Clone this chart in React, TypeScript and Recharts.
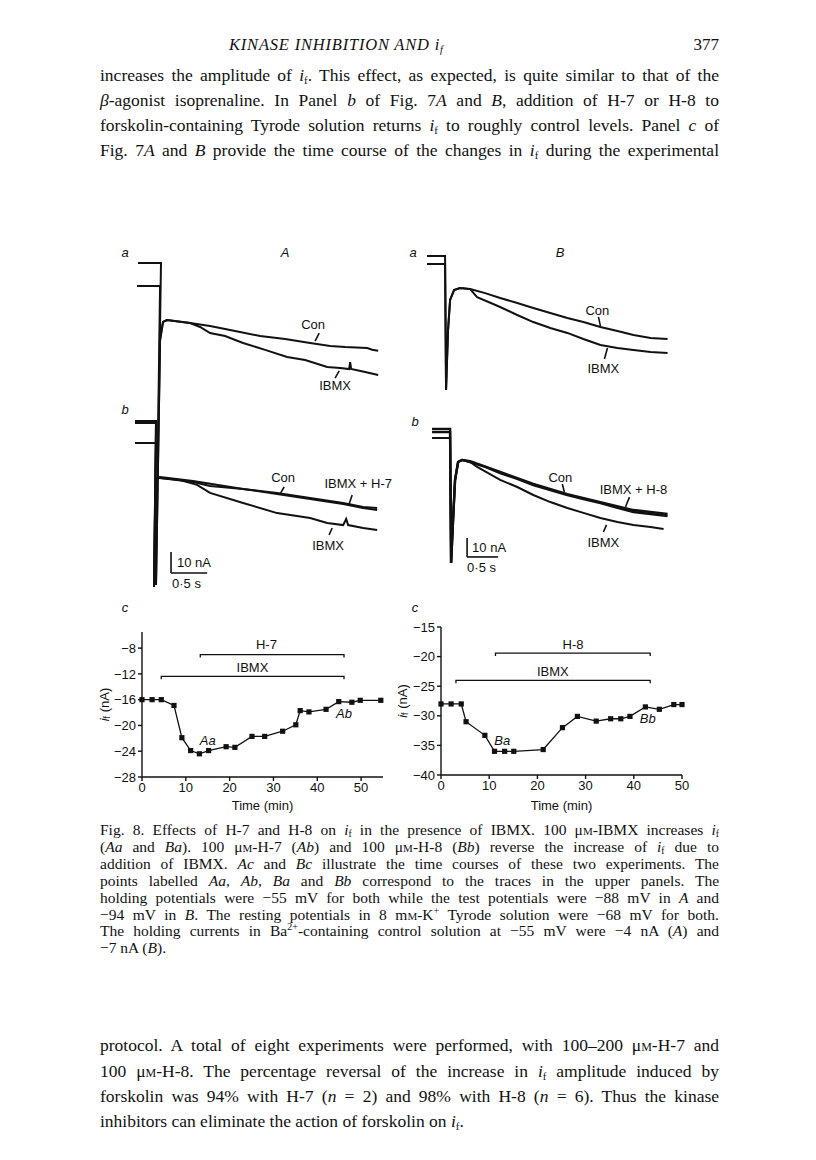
import React from 'react';
import { LineChart, Line, XAxis, YAxis, ReferenceLine, ReferenceDot } from 'recharts';

const SERIF = '"Liberation Serif", "DejaVu Serif", serif';
const SANS = '"Liberation Sans", Arial, sans-serif';

// panel Ac: time course, H-7 experiment
const timeA = [0, 2.3, 4.4, 7.3, 9.1, 11.1, 13.1, 15.2, 19.2, 21.2, 25.1, 28.0, 32.1, 35.1, 36.1, 38.1, 42.0, 44.9, 47.9, 49.8, 54.5];
const ifA = [-16, -16, -16, -16.9, -21.9, -23.9, -24.4, -23.9, -23.3, -23.4, -21.7, -21.7, -20.9, -19.9, -17.7, -17.9, -17.5, -16.3, -16.4, -16.1, -16.1];
const ibmxA = [4.4, 46.1];
const h7A = [13.3, 46.1];

// panel Bc: time course, H-8 experiment
const timeB = [0, 2.1, 4.2, 5.2, 9.1, 11.1, 13.2, 15.1, 21.2, 25.2, 28.3, 32.2, 35.2, 37.3, 39.2, 42.4, 45.3, 48.3, 50];
const ifB = [-28, -28, -28, -31, -33.3, -36, -36, -36, -35.7, -32, -30.1, -30.9, -30.5, -30.5, -30.1, -28.5, -28.9, -28.1, -28.1];
const ibmxB = [3.1, 43.4];
const h8B = [11.3, 43.4];

const ticksA = [-28, -24, -20, -16, -12, -8];
const ticksB = [-40, -35, -30, -25, -20, -15];
const timeTicks = [0, 10, 20, 30, 40, 50];

// current traces (s, nA relative to an arbitrary zero)
const aConT = [0.111, 0.429, 0.36, 0.416, 0.457, 0.512, 0.831, 1.108, 1.454, 1.801, 2.147, 2.493, 2.77, 2.978, 3.283, 3.352, 3.435];
const aConI = [158.8, 158.8, 5.7, 122.2, 130.8, 131.7, 130.3, 128.9, 126.5, 124.1, 122.7, 120.8, 119.4, 118.9, 118.4, 117.6, 117.1];
const aIbmxT = [0.097, 0.416, 0.36, 0.416, 0.457, 0.512, 0.831, 0.97, 1.108, 1.316, 1.565, 1.87, 2.175, 2.424, 2.729, 2.909, 3.033, 3.047, 3.061, 3.255, 3.435];
const aIbmxI = [147.9, 147.9, 5.7, 122.2, 130.8, 131.7, 130.3, 128.4, 125.5, 124.1, 120.8, 117.5, 114.1, 112.7, 109.4, 108.9, 108.4, 111.7, 108.4, 107.0, 105.6];

const abConT = [0.069, 0.36, 0.332, 0.374, 0.416, 0.873, 1.108, 1.565, 2.036, 2.493, 2.95, 3.227, 3.421];
const abConI = [83.7, 83.7, 4.8, 56.6, 56.6, 54.7, 52.8, 51.4, 49.5, 47.1, 44.7, 42.8, 42.3];
const abH7T = [0.069, 0.36, 0.332, 0.374, 0.416, 0.873, 1.565, 2.036, 2.493, 2.95, 3.227, 3.421];
const abH7I = [82.7, 82.7, 4.8, 56.6, 57.1, 55.2, 51.4, 49.0, 46.6, 44.2, 42.3, 41.4];
const abIbmxT = [0.069, 0.36, 0.332, 0.374, 0.416, 0.693, 0.928, 1.108, 1.565, 2.036, 2.493, 2.729, 2.95, 2.992, 3.019, 3.227, 3.421];
const abIbmxI = [73.2, 73.2, 4.8, 56.6, 56.6, 55.6, 53.3, 49.5, 44.7, 39.9, 37.6, 35.2, 34.2, 37.1, 34.2, 32.8, 31.9];

const baConT = [0.113, 0.404, 0.42, 0.452, 0.485, 0.549, 0.646, 0.808, 1.05, 1.292, 1.567, 1.826, 2.1, 2.375, 2.633, 2.908, 3.182, 3.441, 3.715, 3.99];
const baConI = [178.9, 178.9, 108.6, 140.0, 155.8, 161.0, 162.1, 161.5, 159.4, 156.8, 154.2, 151.6, 149.0, 146.3, 144.2, 141.6, 139.5, 137.4, 135.8, 135.3];
const baIbmxT = [0.113, 0.404, 0.42, 0.452, 0.485, 0.549, 0.646, 0.808, 0.921, 1.292, 1.567, 1.826, 2.1, 2.375, 2.633, 2.908, 3.182, 3.441, 3.715, 3.99];
const baIbmxI = [174.7, 174.7, 108.6, 140.0, 155.8, 161.0, 162.1, 161.5, 157.3, 152.1, 147.9, 144.2, 141.1, 138.5, 135.3, 132.2, 130.6, 129.6, 128.5, 128.0];

const bbConT = [0.194, 0.485, 0.501, 0.533, 0.565, 0.614, 0.679, 0.808, 1.05, 1.292, 1.567, 1.826, 2.1, 2.375, 2.633, 2.908, 3.182, 3.441, 3.715, 3.99];
const bbConI = [88.1, 88.1, 17.8, 40.4, 61.4, 70.8, 71.9, 70.8, 68.2, 65.0, 61.9, 58.7, 56.1, 53.5, 51.4, 49.3, 46.7, 44.6, 43.5, 42.5];
const bbH8T = [0.194, 0.485, 0.501, 0.533, 0.565, 0.614, 0.679, 0.808, 1.292, 1.826, 2.375, 2.908, 3.441, 3.99];
const bbH8I = [86.5, 86.5, 17.8, 40.4, 61.4, 70.8, 71.9, 71.3, 65.6, 59.3, 54.0, 49.8, 45.6, 43.5];
const bbIbmxT = [0.194, 0.485, 0.501, 0.533, 0.565, 0.614, 0.679, 0.808, 0.921, 1.292, 1.567, 1.826, 2.1, 2.375, 2.633, 2.908, 3.182, 3.441, 3.715, 3.926];
const bbIbmxI = [83.4, 83.4, 17.8, 40.4, 61.4, 70.8, 71.9, 70.8, 68.2, 61.4, 57.7, 53.5, 49.8, 46.7, 44.1, 41.4, 39.3, 37.8, 36.7, 35.7];

const zip = (t: number[], v: number[]) => t.map((x, i) => ({ t: x, v: v[i] }));

const bracket = (span: number[], level: number, drop: number) => [
  { t: span[0], v: level - drop },
  { t: span[0], v: level },
  { t: span[1], v: level },
  { t: span[1], v: level - drop },
];

const fmtMinus = (v: number) => String(v).replace('-', '\u2212');

const SquareDot = (props: any) => {
  const { cx, cy } = props;
  if (cx == null || cy == null) return null;
  return <rect x={cx - 2.6} y={cy - 2.6} width={5.2} height={5.2} fill="#111" />;
};

const IfLabel = ({ viewBox, dx }: any) => {
  const x = viewBox.x + dx;
  const y = viewBox.y + viewBox.height / 2;
  return (
    <text x={x} y={y} transform={`rotate(-90 ${x} ${y})`} textAnchor="middle" dominantBaseline="central"
      fontSize={13} fontFamily={SANS} fill="#111">
      <tspan fontStyle="italic">i</tspan>
      <tspan fontSize={9} dy={3}>f</tspan>
      <tspan dy={-3}> (nA)</tspan>
    </text>
  );
};

const tag = (text: string, opts: { italic?: boolean; anchor?: string; size?: number } = {}) => ({
  content: (p: any) => (
    <text x={p.viewBox.x + (p.viewBox.width || 0) / 2} y={p.viewBox.y + (p.viewBox.height || 0) / 2}
      textAnchor={opts.anchor || 'middle'} dominantBaseline="central" fontSize={opts.size || 13}
      fontStyle={opts.italic ? 'italic' : 'normal'} fontFamily={SANS} fill="#111">
      {text}
    </text>
  ),
});

const axisProps = {
  stroke: '#111',
  strokeWidth: 1.4,
  tickSize: 4,
  tickMargin: 2,
  tick: { fill: '#111', fontSize: 13, fontFamily: SANS },
};

const If = () => (
  <>
    <i>i</i>
    <span style={{ fontSize: '0.62em', verticalAlign: '-0.25em', lineHeight: 0 }}>f</span>
  </>
);
const uM = <>μ<span style={{ fontVariant: 'small-caps' }}>m</span></>;

function TextLine({ y, size, lh, last, children }: any) {
  return (
    <div style={{
      position: 'absolute', left: 100, top: y - lh / 2, width: 619, height: lh, lineHeight: `${lh}px`,
      fontSize: size, fontFamily: SERIF, color: '#111', textAlign: 'justify',
      textAlignLast: last ? 'left' : 'justify', overflow: 'visible',
    }}>{children}</div>
  );
}

function PanelLetter({ x, y, children }: any) {
  return (
    <div style={{ position: 'absolute', left: x - 6, top: y - 9, width: 12, textAlign: 'center', fontFamily: SANS,
      fontStyle: 'italic', fontSize: 13, lineHeight: '18px', color: '#111' }}>{children}</div>
  );
}

function TraceLine({ data, w = 2 }: any) {
  return <Line data={data} dataKey="v" type="linear" stroke="#111" strokeWidth={w} dot={false} isAnimationActive={false} />;
}

function Tick({ a, b }: any) {
  return <ReferenceLine segment={[{ x: a[0], y: a[1] }, { x: b[0], y: b[1] }]} stroke="#111" strokeWidth={1.6} ifOverflow="visible" />;
}

function TracesA() {
  return (
    <LineChart width={289} height={347} margin={{ top: 0, right: 0, left: 0, bottom: 0 }}
      style={{ position: 'absolute', left: 130, top: 250 }}>
      <XAxis type="number" dataKey="t" domain={[0, 4]} hide />
      <YAxis type="number" domain={[0, 165]} hide />
      <TraceLine data={zip(aConT, aConI)} />
      <TraceLine data={zip(aIbmxT, aIbmxI)} />
      <TraceLine data={zip(abConT, abConI)} />
      <TraceLine data={zip(abH7T, abH7I)} />
      <TraceLine data={zip(abIbmxT, abIbmxI)} />
      <Tick a={[2.618, 125.5]} b={[2.562, 121.7]} />
      <Tick a={[2.895, 107.5]} b={[2.839, 104.1]} />
      <Tick a={[2.133, 52.3]} b={[2.078, 49.0]} />
      <Tick a={[3.075, 48.5]} b={[3.033, 44.2]} />
      <Tick a={[2.798, 32.8]} b={[2.756, 29.5]} />
      {/* scale bars: 10 nA, 0.5 s */}
      <Tick a={[0.568, 21.4]} b={[0.568, 11.4]} />
      <Tick a={[0.568, 11.4]} b={[1.068, 11.4]} />
      <ReferenceDot x={2.535} y={129.8} r={0} label={tag('Con')} />
      <ReferenceDot x={2.839} y={100.8} r={0} label={tag('IBMX')} />
      <ReferenceDot x={2.119} y={56.6} r={0} label={tag('Con')} />
      <ReferenceDot x={3.158} y={54.2} r={0} label={tag('IBMX + H-7')} />
      <ReferenceDot x={2.742} y={24.7} r={0} label={tag('IBMX')} />
      <ReferenceDot x={0.651} y={16.6} r={0} label={tag('10 nA', { anchor: 'start' })} />
      <ReferenceDot x={0.582} y={6.2} r={0} label={tag('0\u00b75 s', { anchor: 'start' })} />
    </LineChart>
  );
}

function TracesB() {
  return (
    <LineChart width={273} height={347} margin={{ top: 0, right: 0, left: 0, bottom: 0 }}
      style={{ position: 'absolute', left: 420, top: 250 }}>
      <XAxis type="number" dataKey="t" domain={[0, 4.4]} hide />
      <YAxis type="number" domain={[0, 182]} hide />
      <TraceLine data={zip(baConT, baConI)} />
      <TraceLine data={zip(baIbmxT, baIbmxI)} />
      <TraceLine data={zip(bbConT, bbConI)} w={2.4} />
      <TraceLine data={zip(bbH8T, bbH8I)} w={2.4} />
      <TraceLine data={zip(bbIbmxT, bbIbmxI)} />
      <Tick a={[2.876, 146.9]} b={[2.908, 142.1]} />
      <Tick a={[3.021, 130.6]} b={[2.973, 124.8]} />
      <Tick a={[2.294, 59.3]} b={[2.326, 55.1]} />
      <Tick a={[3.376, 52.4]} b={[3.312, 47.2]} />
      <Tick a={[3.005, 37.8]} b={[2.956, 34.1]} />
      <Tick a={[0.759, 31.0]} b={[0.759, 21.0]} />
      <Tick a={[0.759, 21.0]} b={[1.259, 21.0]} />
      <ReferenceDot x={2.859} y={150.5} r={0} label={tag('Con')} />
      <ReferenceDot x={2.956} y={120.1} r={0} label={tag('IBMX')} />
      <ReferenceDot x={2.262} y={62.9} r={0} label={tag('Con')} />
      <ReferenceDot x={3.441} y={56.6} r={0} label={tag('IBMX + H-8')} />
      <ReferenceDot x={2.956} y={28.8} r={0} label={tag('IBMX')} />
      <ReferenceDot x={0.84} y={26.2} r={0} label={tag('10 nA', { anchor: 'start' })} />
      <ReferenceDot x={0.759} y={15.7} r={0} label={tag('0\u00b75 s', { anchor: 'start' })} />
    </LineChart>
  );
}

function CourseA() {
  return (
    <LineChart width={320} height={200} margin={{ top: 12, right: 29, left: 0, bottom: 0 }}
      style={{ position: 'absolute', left: 92, top: 620 }}>
      <XAxis type="number" dataKey="t" domain={[0, 55]} ticks={timeTicks} height={43} {...axisProps}
        label={{ value: 'Time (min)', position: 'insideBottom', offset: 10, fill: '#111', fontSize: 13, fontFamily: SANS }} />
      <YAxis type="number" domain={[-28, -5.5]} ticks={ticksA} width={50} tickFormatter={fmtMinus} {...axisProps}
        label={{ content: (p: any) => <IfLabel {...p} dx={12} /> }} />
      <Line data={bracket(ibmxA, -12.4, 0.45)} dataKey="v" stroke="#111" strokeWidth={1.3} dot={false} isAnimationActive={false} />
      <Line data={bracket(h7A, -9.0, 0.45)} dataKey="v" stroke="#111" strokeWidth={1.3} dot={false} isAnimationActive={false} />
      <Line data={zip(timeA, ifA)} dataKey="v" stroke="#111" strokeWidth={1.3} isAnimationActive={false}
        dot={(p: any) => <SquareDot key={p.index} {...p} />} />
      <ReferenceDot x={28.4} y={-7.5} r={0} label={tag('H-7')} />
      <ReferenceDot x={25.2} y={-10.95} r={0} label={tag('IBMX')} />
      <ReferenceDot x={15} y={-22.3} r={0} label={tag('Aa', { italic: true })} />
      <ReferenceDot x={46.1} y={-18.1} r={0} label={tag('Ab', { italic: true })} />
    </LineChart>
  );
}

function CourseB() {
  return (
    <LineChart width={322} height={205} margin={{ top: 12, right: 20, left: 0, bottom: 0 }}
      style={{ position: 'absolute', left: 380, top: 615 }}>
      <XAxis type="number" dataKey="t" domain={[0, 50]} ticks={timeTicks} height={45} {...axisProps}
        label={{ value: 'Time (min)', position: 'insideBottom', offset: 10, fill: '#111', fontSize: 13, fontFamily: SANS }} />
      <YAxis type="number" domain={[-40, -15]} ticks={ticksB} width={61} tickFormatter={fmtMinus} {...axisProps}
        label={{ content: (p: any) => <IfLabel {...p} dx={22} /> }} />
      <Line data={bracket(ibmxB, -24.0, 0.5)} dataKey="v" stroke="#111" strokeWidth={1.3} dot={false} isAnimationActive={false} />
      <Line data={bracket(h8B, -19.4, 0.5)} dataKey="v" stroke="#111" strokeWidth={1.3} dot={false} isAnimationActive={false} />
      <Line data={zip(timeB, ifB)} dataKey="v" stroke="#111" strokeWidth={1.3} isAnimationActive={false}
        dot={(p: any) => <SquareDot key={p.index} {...p} />} />
      <ReferenceDot x={27.4} y={-18.0} r={0} label={tag('H-8')} />
      <ReferenceDot x={23.2} y={-22.6} r={0} label={tag('IBMX')} />
      <ReferenceDot x={12.7} y={-34.1} r={0} label={tag('Ba', { italic: true })} />
      <ReferenceDot x={42.9} y={-30.4} r={0} label={tag('Bb', { italic: true })} />
    </LineChart>
  );
}

export default function App() {
  const body = { size: 17.5, lh: 25 };
  const cap = { size: 15.5, lh: 17 };
  return (
    <div style={{ position: 'absolute', left: 0, top: 0, width: 816, height: 1160, background: '#fff', overflow: 'hidden' }}>
      <div style={{ position: 'absolute', left: 229, top: 34, fontFamily: SERIF, fontStyle: 'italic', fontSize: 16.5,
        letterSpacing: 0.8, lineHeight: '22px', color: '#111' }}>
        KINASE INHIBITION AND <If />
      </div>
      <div style={{ position: 'absolute', left: 680, width: 39, top: 34, textAlign: 'right', fontFamily: SERIF,
        fontSize: 17, lineHeight: '22px', color: '#111' }}>377</div>

      <TextLine y={75} {...body}>increases the amplitude of <If />. This effect, as expected, is quite similar to that of the</TextLine>
      <TextLine y={100} {...body}><i>β</i>-agonist isoprenaline. In Panel <i>b</i> of Fig. 7<i>A</i> and <i>B</i>, addition of H-7 or H-8 to</TextLine>
      <TextLine y={125} {...body}>forskolin-containing Tyrode solution returns <If /> to roughly control levels. Panel <i>c</i> of</TextLine>
      <TextLine y={150} {...body}>Fig. 7<i>A</i> and <i>B</i> provide the time course of the changes in <If /> during the experimental</TextLine>

      <PanelLetter x={125} y={253}>a</PanelLetter>
      <PanelLetter x={285} y={253}>A</PanelLetter>
      <PanelLetter x={413} y={253}>a</PanelLetter>
      <PanelLetter x={560} y={253}>B</PanelLetter>
      <PanelLetter x={125} y={410}>b</PanelLetter>
      <PanelLetter x={415} y={422}>b</PanelLetter>
      <PanelLetter x={125} y={608}>c</PanelLetter>
      <PanelLetter x={415} y={608}>c</PanelLetter>

      <TracesA />
      <TracesB />
      <CourseA />
      <CourseB />

      <TextLine y={829} {...cap}>Fig. 8. Effects of H-7 and H-8 on <If /> in the presence of IBMX. 100 {uM}-IBMX increases <If /></TextLine>
      <TextLine y={846} {...cap}>(<i>Aa</i> and <i>Ba</i>). 100 {uM}-H-7 (<i>Ab</i>) and 100 {uM}-H-8 (<i>Bb</i>) reverse the increase of <If /> due to</TextLine>
      <TextLine y={863} {...cap}>addition of IBMX. <i>Ac</i> and <i>Bc</i> illustrate the time courses of these two experiments. The</TextLine>
      <TextLine y={880} {...cap}>points labelled <i>Aa</i>, <i>Ab</i>, <i>Ba</i> and <i>Bb</i> correspond to the traces in the upper panels. The</TextLine>
      <TextLine y={897} {...cap}>holding potentials were −55 mV for both while the test potentials were −88 mV in <i>A</i> and</TextLine>
      <TextLine y={914} {...cap}>−94 mV in <i>B</i>. The resting potentials in 8 m<span style={{ fontVariant: 'small-caps' }}>m</span>-K<sup style={{ fontSize: '0.65em', lineHeight: 0 }}>+</sup> Tyrode solution were −68 mV for both.</TextLine>
      <TextLine y={930} {...cap}>The holding currents in Ba<sup style={{ fontSize: '0.65em', lineHeight: 0 }}>2+</sup>-containing control solution at −55 mV were −4 nA (<i>A</i>) and</TextLine>
      <TextLine y={947} {...cap} last>−7 nA (<i>B</i>).</TextLine>

      <TextLine y={1045} {...body}>protocol. A total of eight experiments were performed, with 100–200 {uM}-H-7 and</TextLine>
      <TextLine y={1071} {...body}>100 {uM}-H-8. The percentage reversal of the increase in <If /> amplitude induced by</TextLine>
      <TextLine y={1096} {...body}>forskolin was 94% with H-7 (<i>n</i> = 2) and 98% with H-8 (<i>n</i> = 6). Thus the kinase</TextLine>
      <TextLine y={1121} {...body} last>inhibitors can eliminate the action of forskolin on <If />.</TextLine>
    </div>
  );
}
